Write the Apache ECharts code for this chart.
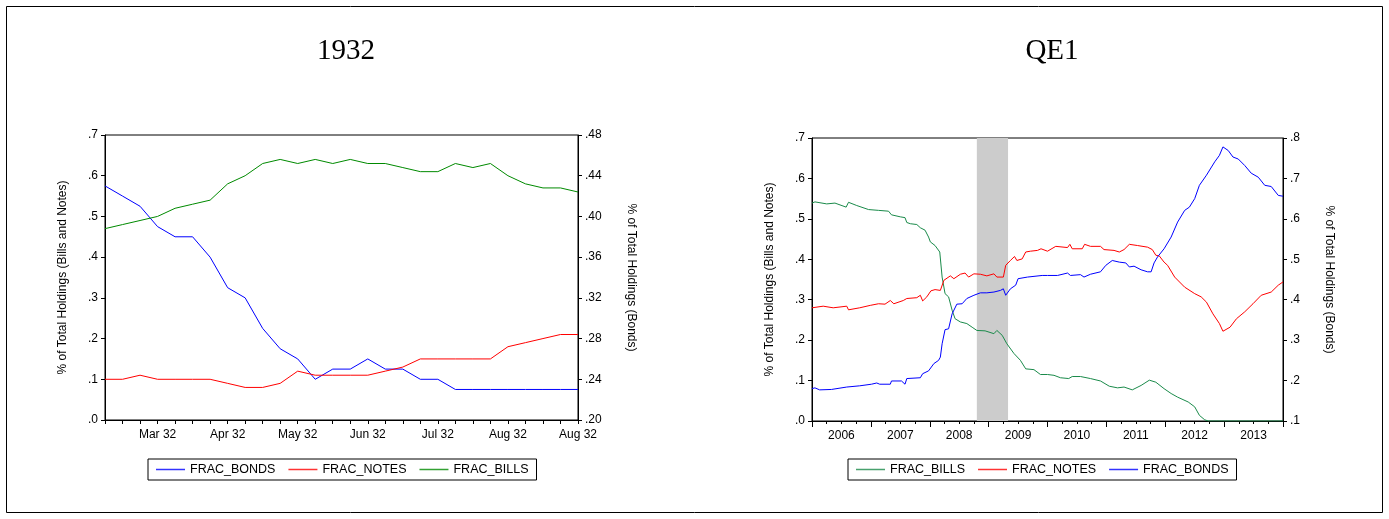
<!DOCTYPE html>
<html><head><meta charset="utf-8">
<script src="https://cdn.jsdelivr.net/npm/echarts@6/dist/echarts.min.js"></script>
<style>html,body{margin:0;padding:0;background:#fff}#c{width:1389px;height:519px}</style>
</head><body><div id="c"></div>
<script>
// ---------- 1932 (weekly observations) ----------
const weeks1932 = ['Feb 32','Feb 32','Feb 32','Mar 32','Mar 32','Mar 32','Mar 32','Apr 32','Apr 32','Apr 32','Apr 32',
  'May 32','May 32','May 32','May 32','Jun 32','Jun 32','Jun 32','Jun 32','Jul 32','Jul 32','Jul 32','Jul 32',
  'Aug 32','Aug 32','Aug 32','Aug 32','Aug 32'];
// bonds on right axis (.20-.48)
const bonds1932 = [.430,.420,.410,.390,.380,.380,.360,.330,.320,.290,.270,.260,.240,.250,.250,.260,.250,.250,.240,.240,.230,.230,.230,.230,.230,.230,.230,.230];
const notes1932 = [.10,.10,.11,.10,.10,.10,.10,.09,.08,.08,.09,.12,.11,.11,.11,.11,.12,.13,.15,.15,.15,.15,.15,.18,.19,.20,.21,.21];
const bills1932 = [.47,.48,.49,.50,.52,.53,.54,.58,.60,.63,.64,.63,.64,.63,.64,.63,.63,.62,.61,.61,.63,.62,.63,.60,.58,.57,.57,.56];

// ---------- QE1 (decimal year, value) ----------
const qeBills = [[2006.00,.539],[2006.05,.542],[2006.25,.537],[2006.39,.539],[2006.58,.529],[2006.62,.541],[2006.76,.533],[2006.96,.523],
  [2007.13,.521],[2007.14,.525],[2007.30,.519],[2007.35,.510],[2007.50,.505],[2007.58,.503],[2007.61,.491],[2007.67,.488],[2007.78,.486],
  [2007.84,.478],[2007.92,.472],[2007.98,.455],[2008.01,.443],[2008.09,.434],[2008.17,.418],[2008.21,.356],[2008.26,.315],[2008.32,.307],
  [2008.38,.274],[2008.43,.253],[2008.52,.245],[2008.63,.241],[2008.72,.232],[2008.80,.224],[2008.94,.223],[2009.09,.216],[2009.14,.224],
  [2009.23,.212],[2009.31,.191],[2009.43,.167],[2009.54,.150],[2009.63,.129],[2009.77,.127],[2009.88,.115],[2010.00,.115],[2010.11,.113],
  [2010.22,.107],[2010.36,.105],[2010.42,.110],[2010.56,.110],[2010.73,.105],[2010.90,.099],[2011.05,.086],[2011.19,.082],[2011.30,.084],
  [2011.44,.077],[2011.59,.088],[2011.73,.101],[2011.84,.096],[2011.98,.080],[2012.10,.068],[2012.21,.059],[2012.39,.047],[2012.50,.035],
  [2012.58,.014],[2012.67,.003],[2012.73,0],[2014.00,0]];
const qeNotes = [[2006.00,.280],[2006.19,.284],[2006.36,.280],[2006.59,.284],[2006.62,.275],[2006.81,.280],[2006.99,.286],[2007.13,.290],
  [2007.24,.289],[2007.33,.298],[2007.39,.290],[2007.55,.298],[2007.61,.303],[2007.78,.305],[2007.84,.311],[2007.88,.297],[2007.95,.307],
  [2008.02,.322],[2008.09,.325],[2008.18,.323],[2008.24,.348],[2008.35,.359],[2008.41,.352],[2008.52,.363],[2008.60,.366],[2008.66,.356],
  [2008.75,.364],[2008.86,.363],[2008.97,.359],[2009.09,.364],[2009.14,.356],[2009.25,.356],[2009.29,.385],[2009.37,.397],[2009.44,.407],
  [2009.48,.397],[2009.57,.401],[2009.63,.418],[2009.71,.420],[2009.83,.422],[2009.89,.426],[2010.00,.420],[2010.14,.432],[2010.34,.429],
  [2010.38,.437],[2010.42,.426],[2010.59,.426],[2010.63,.437],[2010.73,.432],[2010.90,.432],[2010.96,.424],[2011.13,.422],[2011.22,.418],
  [2011.30,.424],[2011.39,.437],[2011.53,.434],[2011.70,.430],[2011.78,.424],[2011.84,.410],[2011.90,.408],[2011.98,.393],[2012.04,.385],
  [2012.16,.356],[2012.33,.331],[2012.50,.315],[2012.61,.307],[2012.70,.294],[2012.81,.265],[2012.92,.241],[2012.98,.222],[2013.10,.232],
  [2013.21,.253],[2013.35,.270],[2013.49,.290],[2013.63,.311],[2013.80,.319],[2013.92,.336],[2014.00,.344]];
// bonds on right axis (.1-.8)
const qeBonds = [[2006.00,.180],[2006.05,.182],[2006.13,.177],[2006.33,.178],[2006.59,.184],[2006.81,.187],[2007.01,.191],[2007.10,.194],
  [2007.15,.191],[2007.33,.191],[2007.35,.199],[2007.52,.199],[2007.58,.191],[2007.61,.205],[2007.84,.207],[2007.88,.217],[2007.98,.224],
  [2008.07,.242],[2008.15,.250],[2008.18,.258],[2008.21,.291],[2008.26,.326],[2008.32,.328],[2008.38,.365],[2008.46,.389],[2008.55,.390],
  [2008.63,.403],[2008.75,.411],[2008.86,.417],[2008.97,.417],[2009.09,.419],[2009.20,.423],[2009.25,.427],[2009.29,.411],[2009.31,.415],
  [2009.37,.427],[2009.46,.436],[2009.50,.452],[2009.66,.456],[2009.91,.460],[2010.00,.460],[2010.17,.460],[2010.34,.466],[2010.39,.460],
  [2010.56,.462],[2010.62,.456],[2010.73,.463],[2010.90,.469],[2010.99,.485],[2011.10,.497],[2011.22,.493],[2011.33,.491],[2011.39,.481],
  [2011.47,.483],[2011.59,.474],[2011.70,.469],[2011.76,.469],[2011.81,.491],[2011.87,.506],[2011.98,.526],[2012.10,.555],[2012.21,.592],
  [2012.33,.621],[2012.41,.629],[2012.50,.650],[2012.58,.683],[2012.70,.708],[2012.84,.741],[2012.92,.757],[2012.98,.778],[2013.07,.769],
  [2013.15,.753],[2013.24,.748],[2013.35,.732],[2013.46,.713],[2013.58,.703],[2013.69,.683],[2013.80,.680],[2013.92,.658],[2014.00,.656]];
const qe1Band = [2008.80, 2009.33];

const C = {blue: '#0000ff', red: '#ff0000', green32: '#008a00', greenQE: '#1a8a4a'};
const FONT = 'Liberation Sans, Arial, sans-serif';
const fmt1 = v => v.toFixed(1).replace(/^0/, '');
const fmt2 = v => v.toFixed(2).replace(/^0/, '');
const axisLineStyle = {show: true, lineStyle: {color: '#000', width: 1}};
const lbl = {color: '#000', fontFamily: FONT, fontSize: 12};

function yAxis(grid, pos, min, max, step, f, name, gap) {
  return {
    type: 'value', gridIndex: grid, position: pos, min, max, interval: step,
    axisLine: axisLineStyle, axisTick: {show: true, length: 4, lineStyle: {color: '#000'}},
    splitLine: {show: false},
    axisLabel: Object.assign({formatter: f, margin: 7}, lbl),
    name, nameLocation: 'middle', nameGap: gap, nameRotate: pos === 'left' ? 90 : -90,
    nameTextStyle: {color: '#000', fontFamily: FONT, fontSize: 12}
  };
}
function legendItem(name, color) {
  return {name, icon: 'rect', itemStyle: {color, borderColor: color, borderWidth: 0, opacity: 0.8},
          lineStyle: {color, width: 0, opacity: 0.8}};
}
const legendBase = {orient: 'horizontal', itemWidth: 29, itemHeight: 1.5, itemGap: 13, top: 459,
  padding: [4, 8, 4, 8], borderColor: '#000', borderWidth: 1, borderRadius: 0,
  textStyle: {color: '#000', fontFamily: FONT, fontSize: 12.5}, selectedMode: false};

const chart = echarts.init(document.getElementById('c'), null, {renderer: 'canvas'});
chart.setOption({
  animation: false,
  backgroundColor: '#fff',
  title: [
    {text: '1932', left: 341, top: 32, textAlign: 'center', textStyle: {fontFamily: 'Liberation Serif, serif', fontWeight: 'normal', fontSize: 29, color: '#000'}},
    {text: 'QE1', left: 1047, top: 32, textAlign: 'center', textStyle: {fontFamily: 'Liberation Serif, serif', fontWeight: 'normal', fontSize: 29, color: '#000'}}
  ],
  graphic: [{type: 'rect', shape: {x: 6.5, y: 6.5, width: 1376, height: 506}, style: {fill: 'none', stroke: '#000', lineWidth: 1}}],
  grid: [
    {left: 105, top: 135, width: 473, height: 285, show: true, borderColor: '#000', borderWidth: 1, containLabel: false},
    {left: 812, top: 138, width: 471, height: 283, show: true, borderColor: '#000', borderWidth: 1, containLabel: false}
  ],
  legend: [
    Object.assign({left: 148, data: [legendItem('FRAC_BONDS', C.blue), legendItem('FRAC_NOTES', C.red), legendItem('FRAC_BILLS', C.green32)]}, legendBase),
    Object.assign({left: 848, data: [legendItem('FRAC_BILLS', C.greenQE), legendItem('FRAC_NOTES', C.red), legendItem('FRAC_BONDS', C.blue)]}, legendBase)
  ],
  xAxis: [
    {type: 'category', gridIndex: 0, position: 'bottom', data: weeks1932, boundaryGap: false,
     axisLine: axisLineStyle, axisTick: {show: true, interval: 0, length: 4, lineStyle: {color: '#000'}},
     axisLabel: Object.assign({interval: i => i % 4 === 3, margin: 9}, lbl), splitLine: {show: false}},
    {type: 'value', gridIndex: 1, position: 'bottom', min: 2006, max: 2014, interval: 1,
     axisLine: axisLineStyle, axisTick: {show: true, length: 6, lineStyle: {color: '#000'}},
     axisLabel: {show: false}, splitLine: {show: false}},
    {type: 'value', gridIndex: 1, position: 'bottom', offset: 0, min: 2006, max: 2014, interval: 0.25,
     axisLine: {show: false}, axisTick: {show: true, length: 3, lineStyle: {color: '#000'}},
     axisLabel: Object.assign({margin: 9, formatter: v => (Math.abs(v % 1 - 0.5) < 1e-6 ? String(Math.floor(v)) : '')}, lbl),
     splitLine: {show: false}}
  ],
  yAxis: [
    yAxis(0, 'left', 0, 0.7, 0.1, fmt1, '% of Total Holdings (Bills and Notes)', 36),
    yAxis(0, 'right', 0.2, 0.48, 0.04, fmt2, '% of Total Holdings (Bonds)', 47),
    yAxis(1, 'left', 0, 0.7, 0.1, fmt1, '% of Total Holdings (Bills and Notes)', 36),
    yAxis(1, 'right', 0.1, 0.8, 0.1, fmt1, '% of Total Holdings (Bonds)', 40)
  ],
  series: [
    {name: 'FRAC_BONDS', type: 'line', xAxisIndex: 0, yAxisIndex: 1, data: bonds1932, showSymbol: false, z: 3,
     lineStyle: {width: 1, color: C.blue}, itemStyle: {color: C.blue}},
    {name: 'FRAC_NOTES', type: 'line', xAxisIndex: 0, yAxisIndex: 0, data: notes1932, showSymbol: false, z: 3,
     lineStyle: {width: 1, color: C.red}, itemStyle: {color: C.red}},
    {name: 'FRAC_BILLS', type: 'line', xAxisIndex: 0, yAxisIndex: 0, data: bills1932, showSymbol: false, z: 3,
     lineStyle: {width: 1, color: C.green32}, itemStyle: {color: C.green32}},
    {name: 'band', type: 'line', xAxisIndex: 1, yAxisIndex: 2, data: [], z: 1, silent: true,
     markArea: {silent: true, itemStyle: {color: '#cccccc', opacity: 1}, label: {show: false},
       data: [[{xAxis: qe1Band[0]}, {xAxis: qe1Band[1]}]]}},
    {name: 'FRAC_BILLS', type: 'line', xAxisIndex: 1, yAxisIndex: 2, data: qeBills, showSymbol: false, z: 3,
     lineStyle: {width: 1, color: C.greenQE}, itemStyle: {color: C.greenQE}},
    {name: 'FRAC_NOTES', type: 'line', xAxisIndex: 1, yAxisIndex: 2, data: qeNotes, showSymbol: false, z: 3,
     lineStyle: {width: 1, color: C.red}, itemStyle: {color: C.red}},
    {name: 'FRAC_BONDS', type: 'line', xAxisIndex: 1, yAxisIndex: 3, data: qeBonds, showSymbol: false, z: 3,
     lineStyle: {width: 1, color: C.blue}, itemStyle: {color: C.blue}}
  ]
});
</script>
</body></html>
